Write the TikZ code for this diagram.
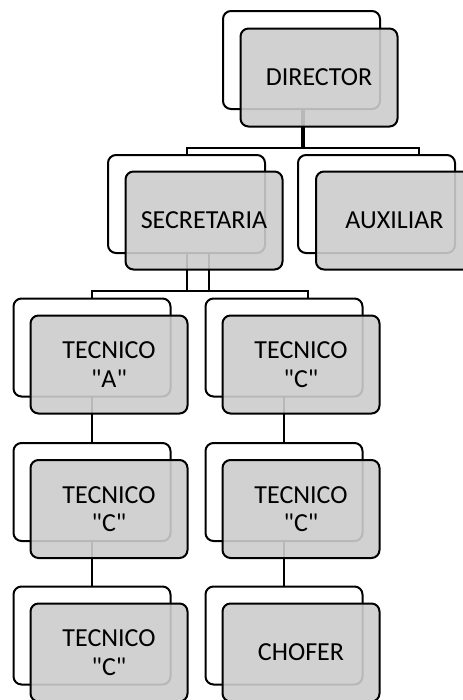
\documentclass[tikz,border=0pt]{standalone}
\usepackage{fontspec}
\setmainfont{Carlito}[Ligatures=TeXOff]
\usetikzlibrary{calc}
\begin{document}
\begin{tikzpicture}[x=0.75pt,y=-0.75pt,
  backbox/.style={draw=black, line width=1.5pt, fill=white, rounded corners=6pt,
    minimum width=117.75pt, minimum height=73.5pt, inner sep=0pt, outer sep=0pt},
  frontbox/.style={draw=black, line width=1.5pt, fill=black!20, fill opacity=0.9,
    text opacity=1, rounded corners=6pt, minimum width=117.75pt, minimum height=73.5pt,
    inner sep=0pt, outer sep=0pt, align=center, font=\fontsize{19.5}{21.3}\selectfont},
  conn/.style={draw=black, line width=1.5pt}]
\useasboundingbox (0,0) rectangle (463,700);
% back frames
\node[backbox] (dirB) at (301.5,60) {};
\node[backbox] (secB) at (186.5,204) {};
\node[backbox] (auxB) at (376.5,204) {};
\node[backbox] (taB) at (92,347.5) {};
\node[backbox] (tcB) at (284,347.5) {};
\node[backbox] (tlB) at (92,492) {};
\node[backbox] (trB) at (284,492) {};
\node[backbox] (blB) at (92,635.5) {};
\node[backbox] (choB) at (284,635.5) {};
% connectors
\draw[conn] (dirB.south) -- ++(0,39) -| (secB.north);
\draw[conn] ($(dirB.south)+(2,0)$) -- ++(0,39) -| ($(auxB.north)+(42.5,0)$);
\draw[conn] (secB.south) -- ++(0,38) -| (taB.north);
\draw[conn] ($(secB.south)+(22,0)$) -- ++(0,38) -| ($(tcB.north)+(24,0)$);
\draw[conn] ($(secB.south)+(0,38)$) -- ++(22,0);
\draw[conn] (taB.south) -- (tlB.north);
\draw[conn] (tlB.south) -- (blB.north);
\draw[conn] (tcB.south) -- (trB.north);
\draw[conn] (trB.south) -- (choB.north);
% front boxes
\node[frontbox] (dirF) at (319,77.5) {DIRECTOR};
\node[frontbox] (secF) at (204,220.5) {SECRETARIA};
\node[frontbox] (auxF) at (394.5,220.5) {AUXILIAR};
\node[frontbox] (taF) at (109,364.5) {TECNICO\\"A"};
\node[frontbox] (tcF) at (301,364.5) {TECNICO\\"C"};
\node[frontbox] (tlF) at (109,509) {TECNICO\\"C"};
\node[frontbox] (trF) at (301,509) {TECNICO\\"C"};
\node[frontbox] (blF) at (109,652.5) {TECNICO\\"C"};
\node[frontbox] (choF) at (301,652.5) {CHOFER};
\end{tikzpicture}
\end{document}
